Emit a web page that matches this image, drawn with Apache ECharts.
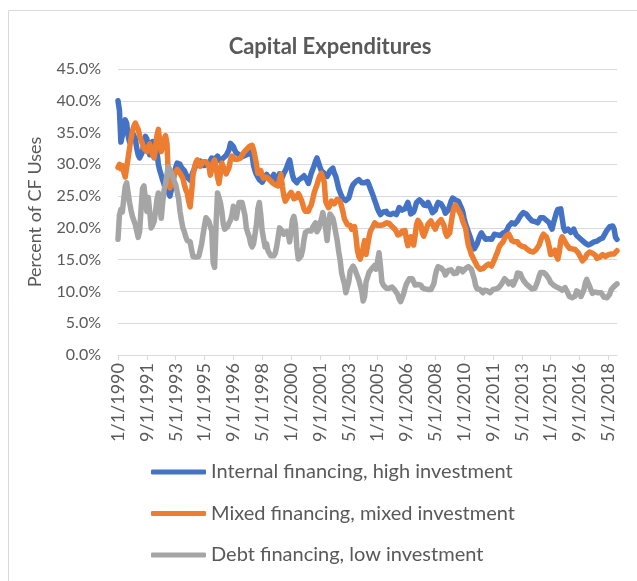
<!DOCTYPE html>
<html>
<head>
<meta charset="utf-8">
<script src="https://cdn.jsdelivr.net/npm/echarts@6/dist/echarts.min.js"></script>
<style>
html,body{margin:0;padding:0;background:#fff;}
#chart{width:637px;height:581px;}
</style>
</head>
<body>
<div id="chart"></div>
<script>
// Monthly observations, 1/1990 .. 11/2018 (percent of CF uses)
const internalHigh = [
40.0,38.5,33.5,34.5,36.0,37.0,36.5,34.5,33.5,34.5,35.0,34.5,
34.0,32.5,31.5,31.0,31.5,32.0,33.5,34.4,34.0,33.0,31.5,32.5,
33.6,33.5,33.0,32.0,30.0,29.0,28.3,27.5,26.8,26.0,25.8,25.5,
25.0,25.0,27.0,28.5,29.5,30.2,30.5,30.0,29.5,29.5,29.0,28.5,
28.0,27.8,27.5,28.2,28.8,29.3,29.8,30.2,30.5,30.5,29.8,29.5,
29.8,30.3,30.0,30.2,30.6,31.0,31.0,30.8,30.5,31.3,31.0,30.5,
30.8,31.0,31.3,31.4,31.4,32.3,33.3,33.6,32.8,32.2,31.8,31.6,
31.5,31.5,31.2,31.5,31.4,31.3,31.6,32.0,32.2,31.5,29.8,29.0,
28.4,28.0,27.6,27.3,27.2,27.5,28.0,28.4,28.2,27.8,27.7,28.0,
28.4,28.0,27.4,27.8,28.5,28.4,28.0,28.6,29.0,29.5,30.2,30.7,
29.5,28.3,27.6,27.4,27.1,27.5,27.5,27.8,28.0,28.2,28.5,27.5,
27.0,27.8,28.6,29.2,29.8,30.5,31.0,30.8,29.6,29.0,28.8,28.6,
28.3,28.1,28.5,29.0,29.3,29.4,28.6,28.1,27.2,26.2,25.6,25.0,
24.6,24.5,24.3,24.5,24.7,25.5,26.3,26.8,27.1,27.3,27.5,27.6,
27.3,27.1,27.0,27.1,27.3,27.3,26.8,26.2,26.0,25.0,24.3,23.7,
23.0,22.5,22.1,22.2,22.5,22.7,22.6,22.2,22.1,22.1,22.2,22.3,
22.2,22.1,22.6,23.2,23.1,22.8,22.9,23.0,23.3,24.0,23.2,22.2,
21.9,22.5,23.2,24.0,24.2,24.4,24.3,24.0,23.6,23.3,23.5,24.0,
23.8,23.0,22.4,22.2,22.8,23.5,24.0,23.9,23.8,23.8,23.0,22.3,
22.1,22.8,23.5,24.2,24.7,24.6,24.4,24.3,24.2,24.0,23.2,22.6,
21.5,20.6,20.0,19.3,18.7,18.0,17.2,16.7,16.8,17.5,18.2,18.8,
19.2,18.8,18.6,18.2,18.0,18.3,18.3,18.2,18.6,19.0,19.1,18.9,
18.7,18.8,19.0,19.2,19.3,19.4,19.8,20.3,20.5,20.8,20.6,20.6,
20.9,21.1,21.5,21.9,22.2,22.4,22.4,22.2,21.9,21.6,21.4,21.1,
21.2,21.0,20.9,20.8,21.2,21.6,21.9,21.6,21.3,21.2,21.1,20.8,
20.2,19.8,20.8,21.6,22.4,22.9,23.1,23.0,21.5,20.0,19.5,19.6,
19.8,19.6,19.3,19.6,19.8,19.2,18.8,18.6,18.4,18.2,18.0,17.7,
17.6,17.5,17.3,17.3,17.5,17.7,17.8,17.6,17.9,18.1,18.2,18.2,
18.4,18.6,19.2,19.6,19.9,20.2,20.4,20.3,19.8,18.5,18.2
];
const mixedMixed = [
29.5,30.0,29.3,29.8,28.8,28.0,29.5,31.0,32.5,34.0,35.2,36.0,
36.5,36.7,35.5,34.5,33.8,33.2,32.5,32.2,32.0,32.8,33.2,32.5,
31.5,31.0,32.5,34.5,35.5,33.5,32.0,32.8,34.0,34.5,33.2,27.5,
26.3,26.5,27.5,28.3,28.8,29.2,29.0,28.6,28.3,27.8,26.8,26.0,
25.5,24.2,23.3,25.5,28.3,29.5,30.3,30.7,30.2,29.7,30.0,30.4,
30.6,30.4,30.7,29.8,28.3,29.2,30.3,30.7,29.5,28.0,27.0,28.6,
30.2,29.6,29.2,28.5,28.7,29.5,30.7,31.3,31.0,30.8,30.6,30.8,
30.6,31.0,31.3,31.8,32.0,32.3,32.5,32.8,33.1,33.0,32.3,31.2,
30.0,28.6,28.4,29.0,28.2,27.8,27.9,28.0,27.8,27.6,27.4,27.1,
27.0,26.8,26.6,26.6,27.6,28.4,26.5,25.0,24.2,24.6,25.0,25.3,
25.6,25.2,24.6,24.3,24.8,25.4,25.0,24.5,23.8,23.0,22.6,22.4,
22.6,23.2,23.6,24.5,25.5,26.2,26.8,27.6,28.2,28.6,28.4,27.2,
24.2,23.6,23.2,23.6,24.2,24.3,23.8,24.0,24.5,24.6,24.2,23.4,
22.5,21.4,21.0,20.5,20.6,20.4,19.8,19.6,20.2,18.6,16.5,15.5,
15.1,15.3,16.8,18.0,15.8,15.6,18.5,19.5,19.8,20.3,20.8,20.6,
20.4,20.3,20.4,20.6,20.5,20.6,20.8,20.9,20.7,20.4,20.2,20.1,
19.8,19.4,18.9,18.8,19.1,19.5,19.7,19.6,18.2,17.2,18.0,18.6,
18.0,17.3,18.8,20.5,21.2,21.4,20.5,19.2,18.7,19.3,20.0,20.6,
20.8,21.1,21.0,20.2,19.8,20.4,20.8,21.0,21.3,21.4,20.4,19.3,
18.7,18.5,19.2,20.8,22.2,23.2,23.6,23.2,22.8,22.4,21.9,21.1,
20.5,20.0,18.5,17.2,16.6,15.8,15.4,14.9,14.5,14.0,13.7,13.5,
13.4,13.6,13.8,14.0,14.3,14.3,14.2,14.0,14.5,15.0,15.6,16.1,
16.8,17.3,17.4,17.8,18.3,18.7,18.9,19.0,18.6,18.0,17.7,17.8,
18.0,17.8,17.4,17.2,17.1,17.2,17.0,16.8,16.6,16.5,16.3,16.1,
16.2,16.4,16.6,16.8,17.3,18.0,18.6,19.0,18.9,18.6,18.0,17.0,
15.8,15.5,16.0,16.5,15.6,15.1,16.2,18.0,18.6,18.3,17.8,17.4,
17.2,16.8,16.6,16.7,16.8,16.6,16.4,16.1,15.8,15.3,14.8,14.7,
15.3,15.8,16.1,16.2,16.1,16.0,16.2,15.7,15.2,15.1,15.4,15.7,
15.8,15.6,15.5,15.6,15.8,15.7,15.9,16.0,15.9,16.2,16.4
];
const debtLow = [
18.2,22.0,22.9,22.5,24.5,26.5,27.1,25.5,24.0,22.8,21.8,21.5,
20.5,19.5,18.5,19.5,23.0,26.2,26.6,24.5,22.6,24.8,22.5,20.0,
20.4,21.0,22.5,24.5,25.5,23.6,21.5,24.0,26.0,27.0,28.5,29.6,
29.4,28.6,28.0,27.4,26.8,26.6,24.6,22.6,21.2,20.0,19.4,18.6,
18.0,18.1,17.8,16.6,15.5,15.6,15.4,15.6,15.5,15.6,17.5,19.0,
20.4,21.6,21.3,21.0,21.3,19.5,14.5,13.8,20.5,25.5,24.8,24.0,
22.6,20.6,19.8,19.8,20.2,20.8,21.2,22.0,23.4,22.4,21.5,22.8,
24.0,24.2,24.0,23.8,22.0,20.0,19.2,18.6,17.5,17.0,17.5,19.0,
20.5,23.0,24.0,22.0,19.5,18.2,17.0,17.5,16.4,16.0,15.6,15.3,
15.6,16.0,17.0,18.5,20.0,20.3,19.5,19.0,18.8,19.4,19.0,17.8,
19.5,21.3,21.8,20.5,17.0,15.1,15.3,15.6,16.5,18.2,19.3,19.4,
19.6,19.8,19.5,20.1,20.3,20.8,19.4,19.8,20.6,21.4,22.4,21.2,
19.8,18.0,20.5,22.2,21.9,21.5,20.5,19.2,18.0,16.3,15.0,13.0,
12.0,11.2,9.8,9.5,11.5,13.2,13.6,14.0,13.6,13.0,12.8,11.8,
11.6,10.0,8.5,9.2,11.5,12.2,13.0,13.2,13.6,13.8,14.1,13.5,
14.8,16.1,14.0,11.5,11.0,10.8,10.5,10.4,10.5,10.6,10.7,10.5,
10.2,10.0,9.5,8.8,8.4,8.6,9.6,10.5,11.2,11.6,12.0,12.2,
12.0,11.5,11.0,10.9,11.1,11.3,11.0,10.6,10.5,10.4,10.6,10.3,
10.0,10.3,10.6,11.2,12.5,13.4,13.9,14.0,13.7,13.5,13.2,12.6,
12.8,13.3,13.6,13.4,13.1,12.8,12.6,12.9,13.6,13.8,13.5,13.1,
13.2,13.6,13.8,13.9,13.8,13.5,13.2,12.0,10.9,10.4,10.6,10.3,
10.0,9.8,10.2,10.4,10.1,9.9,9.8,10.0,10.3,10.6,10.4,10.2,
10.6,10.9,11.2,11.6,12.0,12.2,11.6,11.2,11.3,11.5,11.0,11.2,
12.0,12.9,13.2,12.8,12.2,11.8,11.6,11.2,10.9,10.8,10.6,10.4,
10.5,10.5,11.0,11.6,12.4,13.0,13.1,13.0,12.8,12.6,12.3,11.9,
11.4,11.1,11.0,10.8,10.7,10.6,10.5,10.3,10.2,10.4,10.6,10.3,
9.7,9.2,9.2,9.0,8.9,9.3,10.1,10.3,9.8,9.2,9.4,10.2,
11.3,11.9,11.3,10.8,10.2,9.7,9.6,9.9,10.1,9.8,9.6,9.8,
9.6,9.1,8.8,9.0,9.2,9.6,10.3,10.6,10.8,11.0,11.2
];
const seriesNames = [
  'Internal financing, high investment',
  'Mixed financing, mixed investment',
  'Debt financing, low investment'
];
const startYear = 1990;
const dates = [];
for (let i = 0; i < internalHigh.length; i++) {
  dates.push(((i % 12) + 1) + '/1/' + (startYear + Math.floor(i / 12)));
}

const FONT = 'Lato, "Open Sans", sans-serif';
const TXT = '#595959';
const chart = echarts.init(document.getElementById('chart'), null, {renderer: 'canvas'});
const mkLine = (name, data, color) => ({
  name, type: 'line', data, showSymbol: false, symbol: 'none',
  lineStyle: {color, width: 5.5, cap: 'round', join: 'round'},
  itemStyle: {color},
  animation: false
});
chart.setOption({
  animation: false,
  textStyle: {fontFamily: FONT},
  graphic: [{
    type: 'rect', left: 6, top: 8,
    shape: {width: 650, height: 600},
    style: {fill: 'none', stroke: '#d9d9d9', lineWidth: 1}
  }],
  title: {
    text: 'Capital Expenditures',
    left: 325, top: 31, textAlign: 'center',
    textStyle: {fontFamily: FONT, fontSize: 22, fontWeight: 'bold', color: TXT}
  },
  grid: {left: 118, right: 20, top: 69, bottom: 226, containLabel: false},
  legend: {
    orient: 'vertical', left: 146, top: 456,
    itemWidth: 55, itemHeight: 5, itemGap: 19.5, icon: 'roundRect',
    textStyle: {fontFamily: FONT, fontSize: 20, color: TXT, lineHeight: 22},
    data: seriesNames
  },
  xAxis: {
    type: 'category', data: dates, boundaryGap: false,
    axisLine: {lineStyle: {color: '#d9d9d9', width: 1}},
    axisTick: {show: true, interval: 19, length: 5, lineStyle: {color: '#d9d9d9'}},
    axisLabel: {rotate: 90, interval: 19, fontFamily: FONT, fontSize: 18, color: TXT, margin: 8},
    splitLine: {show: false}
  },
  yAxis: {
    type: 'value', min: 0, max: 45, interval: 5,
    name: 'Percent of CF Uses', nameLocation: 'middle', nameGap: 74,
    nameTextStyle: {fontFamily: FONT, fontSize: 18, color: TXT},
    axisLine: {show: false}, axisTick: {show: false},
    axisLabel: {formatter: v => v.toFixed(1) + '%', fontFamily: FONT, fontSize: 16, color: TXT, margin: 17},
    splitLine: {lineStyle: {color: '#d9d9d9', width: 1}}
  },
  series: [
    mkLine(seriesNames[0], internalHigh, '#4472C4'),
    mkLine(seriesNames[1], mixedMixed, '#ED7D31'),
    mkLine(seriesNames[2], debtLow, '#A5A5A5')
  ]
});
</script>
</body>
</html>
